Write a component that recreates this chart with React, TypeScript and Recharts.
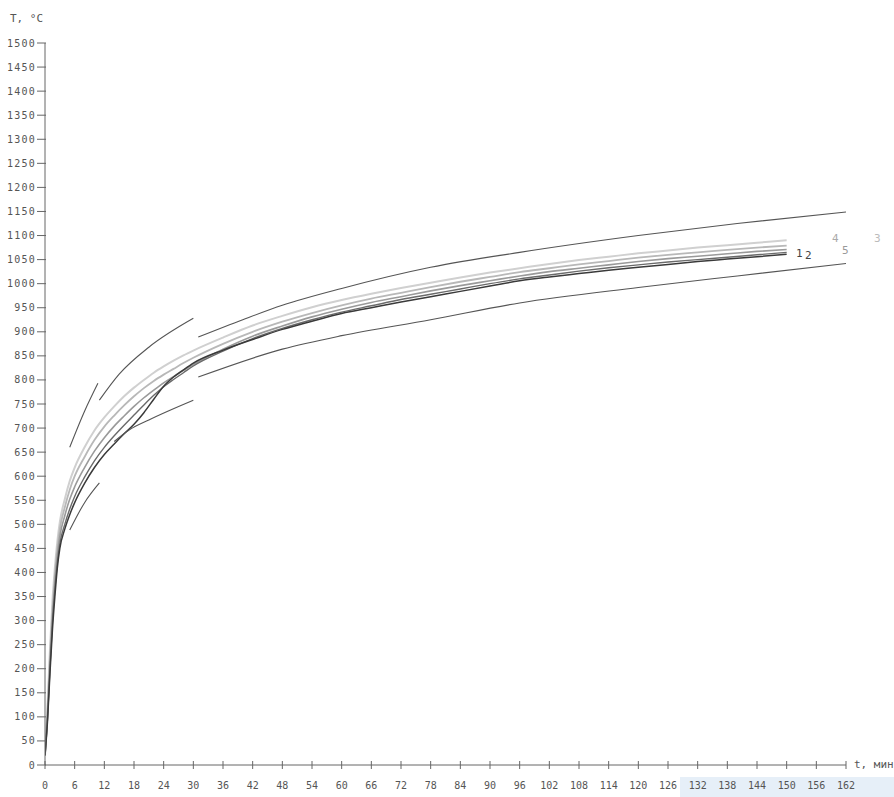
import { LineChart, Line, XAxis, YAxis } from "recharts";

// time points, min
const times = [0, 0.5, 1, 1.5, 2, 2.5, 3, 4, 5, 6, 8, 10, 12, 14, 16, 18, 20, 22, 24, 26, 28, 30,
  36, 42, 48, 54, 60, 66, 72, 78, 84, 90, 96, 102, 108, 114, 120, 126, 132, 138, 144, 150];

// measured furnace curves, °C
const curve1 = [20, 90, 190, 280, 350, 410, 450, 490, 520, 545, 585, 618, 645, 667, 688, 708, 732, 760, 787, 806, 821, 835,
  862, 884, 905, 922, 938, 950, 962, 973, 984, 995, 1006, 1014, 1021, 1028, 1034, 1040, 1046, 1051, 1056, 1061];
const curve2 = [20, 95, 200, 295, 365, 420, 460, 500, 532, 558, 598, 632, 660, 684, 706, 727, 748, 768, 786, 801, 815, 829,
  860, 886, 907, 925, 941, 954, 967, 978, 989, 1000, 1010, 1018, 1026, 1033, 1039, 1045, 1050, 1055, 1060, 1065];
const curve3 = [20, 100, 210, 305, 380, 435, 475, 518, 552, 578, 618, 652, 680, 704, 725, 745, 763, 779, 794, 807, 820, 832,
  864, 891, 912, 931, 947, 961, 973, 985, 996, 1006, 1016, 1025, 1032, 1039, 1046, 1052, 1057, 1062, 1067, 1071];
const curve4 = [20, 110, 225, 320, 395, 450, 490, 535, 572, 600, 640, 675, 703, 726, 747, 766, 783, 798, 811, 823, 835, 846,
  875, 900, 921, 939, 955, 969, 981, 993, 1004, 1014, 1024, 1032, 1040, 1047, 1054, 1060, 1065, 1070, 1075, 1079];
const curve5 = [20, 120, 240, 340, 410, 465, 505, 552, 590, 618, 660, 695, 722, 745, 766, 784, 800, 815, 828, 840, 851, 861,
  888, 913, 933, 951, 966, 979, 991, 1002, 1013, 1023, 1032, 1041, 1049, 1056, 1063, 1069, 1075, 1080, 1085, 1090];

// tolerance limits
const upperA_t = [5, 8, 10.7];
const upperA = [660, 735, 793];
const upperB_t = [11, 15, 21, 30];
const upperB = [758, 812, 868, 928];
const upperC_t = [31, 40, 48, 60, 78, 96, 120, 140, 163];
const upperC = [889, 925, 955, 990, 1034, 1065, 1100, 1125, 1150];
const lowerA_t = [5, 8, 11];
const lowerA = [488, 545, 586];
const lowerB_t = [14, 17, 21, 30];
const lowerB = [672, 696, 717, 758];
const lowerC_t = [31, 48, 60, 78, 96, 120, 140, 163];
const lowerC = [806, 864, 892, 925, 960, 992, 1016, 1043];

const xTicks = Array.from({ length: 28 }, (_, i) => i * 6);
const yTicks = Array.from({ length: 31 }, (_, i) => i * 50);

const toRows = (ts: number[], vs: number[]) => ts.map((t, i) => ({ t, T: vs[i] }));

const curves = [
  { data: toRows(times, curve5), color: "#d0d0d0", w: 2 },
  { data: toRows(times, curve4), color: "#b8b8b8", w: 1.8 },
  { data: toRows(times, curve3), color: "#9a9a9a", w: 1.6 },
  { data: toRows(times, curve2), color: "#6a6a6a", w: 1.4 },
  { data: toRows(times, curve1), color: "#3a3a3a", w: 1.5 },
];

const limits = [
  toRows(upperA_t, upperA),
  toRows(upperB_t, upperB),
  toRows(upperC_t, upperC),
  toRows(lowerA_t, lowerA),
  toRows(lowerB_t, lowerB),
  toRows(lowerC_t, lowerC),
];

const font = "'DejaVu Sans Mono', monospace";

const XTick = ({ x, y, payload }: any) => (
  <g>
    <line x1={x} x2={x} y1={y - 4} y2={y + 4} stroke="#666" />
    <text x={x} y={y + 24} textAnchor="middle" fontSize={10} fill="#555" fontFamily={font}>
      {payload.value}
    </text>
  </g>
);

const YTick = ({ x, y, payload }: any) => (
  <g>
    <line x1={x - 8} x2={x + 1} y1={y} y2={y} stroke="#666" />
    <text x={x - 9} y={y + 3.5} textAnchor="end" fontSize={10} letterSpacing={1.2} fill="#555" fontFamily={font}>
      {payload.value}
    </text>
  </g>
);

const note = (left: number, top: number, text: string, color = "#666") => (
  <div style={{ position: "absolute", left, top, fontSize: 11, color, fontFamily: font }}>{text}</div>
);

export default function App() {
  return (
    <div style={{ position: "absolute", left: 0, top: 0, width: 894, height: 797, background: "#fff", overflow: "hidden" }}>
      <div style={{ position: "absolute", left: 680, top: 777, width: 214, height: 20, background: "#e6eff8" }} />
      <div style={{ position: "absolute", left: 0, top: 0 }}>
        <LineChart width={894} height={797} margin={{ top: 43, right: 48, bottom: 0, left: 0 }}>
          <XAxis
            dataKey="t"
            type="number"
            domain={[0, 162]}
            ticks={xTicks}
            interval={0}
            height={32}
            tickSize={0}
            tickMargin={0}
            tick={<XTick />}
            stroke="#666"
            allowDataOverflow
          />
          <YAxis
            type="number"
            domain={[0, 1500]}
            ticks={yTicks}
            interval={0}
            width={45}
            tickSize={0}
            tickMargin={0}
            tick={<YTick />}
            stroke="#666"
          />
          {curves.map((c, i) => (
            <Line
              key={"c" + i}
              data={c.data}
              dataKey="T"
              type="monotone"
              stroke={c.color}
              strokeWidth={c.w}
              dot={false}
              isAnimationActive={false}
            />
          ))}
          {limits.map((d, i) => (
            <Line
              key={"l" + i}
              data={d}
              dataKey="T"
              type="monotone"
              stroke="#555"
              strokeWidth={1.1}
              dot={false}
              isAnimationActive={false}
            />
          ))}
        </LineChart>
      </div>
      {note(10, 12, "T, °C", "#555")}
      {note(854, 758, "t, мин", "#555")}
      {note(796, 247, "1", "#444")}
      {note(805, 249, "2", "#444")}
      {note(832, 232, "4", "#aaa")}
      {note(842, 244, "5", "#999")}
      {note(874, 232, "3", "#bbb")}
    </div>
  );
}
